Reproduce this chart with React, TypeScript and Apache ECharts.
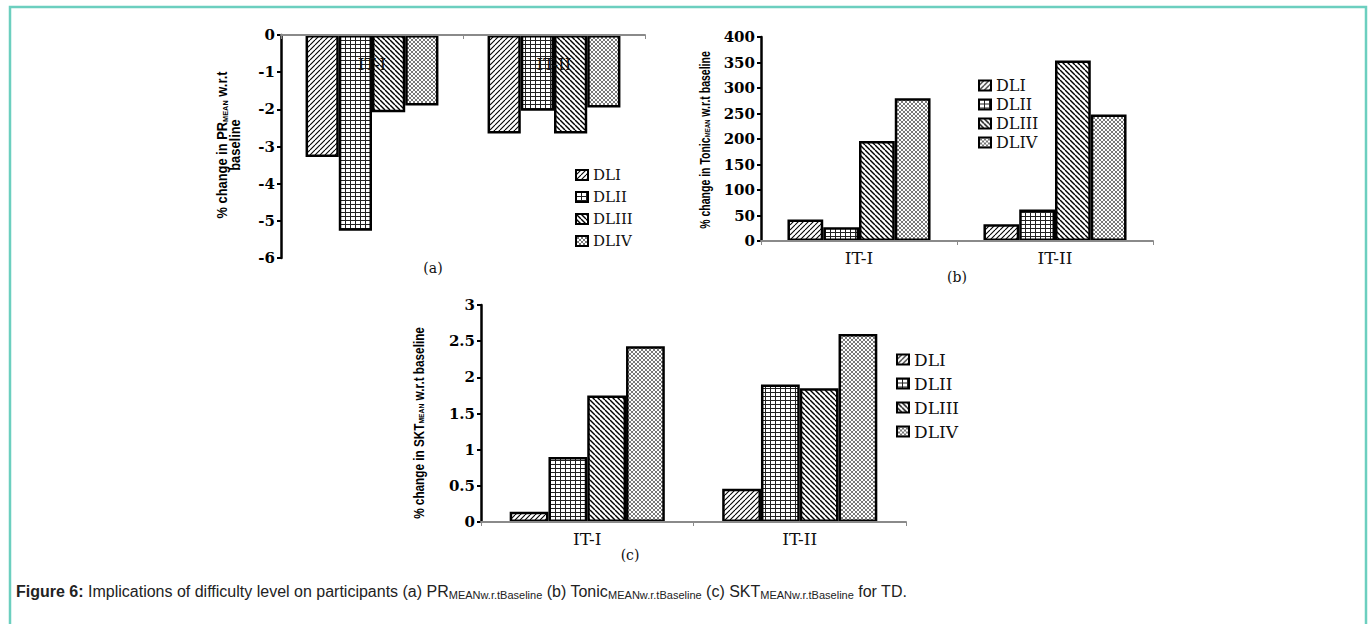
import React, { useEffect, useRef } from "react";
import * as echarts from "echarts";

// ---- data ----
const categories = ["IT-I", "IT-II"];
const levels = ["DLI", "DLII", "DLIII", "DLIV"];

// (a) % change in PR_MEAN w.r.t baseline
const prDLI = [-3.28, -2.65];
const prDLII = [-5.27, -2.04];
const prDLIII = [-2.08, -2.65];
const prDLIV = [-1.9, -1.95];

// (b) % change in Tonic_MEAN w.r.t baseline
const tonicDLI = [42, 33];
const tonicDLII = [27, 62];
const tonicDLIII = [196, 354];
const tonicDLIV = [280, 248];

// (c) % change in SKT_MEAN w.r.t baseline
const sktDLI = [0.14, 0.46];
const sktDLII = [0.9, 1.9];
const sktDLIII = [1.75, 1.85];
const sktDLIV = [2.43, 2.6];

// axis ticks
const prTicks = [-6, -5, -4, -3, -2, -1, 0];
const tonicTicks = [0, 50, 100, 150, 200, 250, 300, 350, 400];
const sktTicks = [0, 0.5, 1, 1.5, 2, 2.5, 3];

const SERIF = "'DejaVu Serif', 'Liberation Serif', serif";
const SANS = "'Liberation Sans', Arial, sans-serif";

function makePattern(w: number, h: number, draw: (ctx: CanvasRenderingContext2D, w: number, h: number) => void) {
  const c = document.createElement("canvas");
  c.width = w;
  c.height = h;
  const ctx = c.getContext("2d") as CanvasRenderingContext2D;
  ctx.fillStyle = "#ffffff";
  ctx.fillRect(0, 0, w, h);
  draw(ctx, w, h);
  return { image: c, repeat: "repeat", imageWidth: w, imageHeight: h } as any;
}

function buildPatterns() {
  const fwd = makePattern(5, 5, (ctx, w, h) => {
    ctx.strokeStyle = "#000";
    ctx.lineWidth = 1.1;
    for (const o of [-w, 0, w]) {
      ctx.beginPath();
      ctx.moveTo(o, h);
      ctx.lineTo(o + w, 0);
      ctx.stroke();
    }
  });
  const grid = makePattern(5, 4, (ctx, w, h) => {
    ctx.fillStyle = "#222";
    ctx.fillRect(0, 0, 1, h);
    ctx.fillRect(0, 0, w, 1);
  });
  const back = makePattern(5, 5, (ctx, w, h) => {
    ctx.strokeStyle = "#000";
    ctx.lineWidth = 1.4;
    for (const o of [-w, 0, w]) {
      ctx.beginPath();
      ctx.moveTo(o, 0);
      ctx.lineTo(o + w, h);
      ctx.stroke();
    }
  });
  const cross = makePattern(4, 4, (ctx, w, h) => {
    ctx.strokeStyle = "#6a6a6a";
    ctx.lineWidth = 0.9;
    for (const o of [-w, 0, w]) {
      ctx.beginPath();
      ctx.moveTo(o, 0);
      ctx.lineTo(o + w, h);
      ctx.stroke();
      ctx.beginPath();
      ctx.moveTo(o, h);
      ctx.lineTo(o + w, 0);
      ctx.stroke();
    }
  });
  return [fwd, grid, back, cross];
}

const nameRich = {
  t: { fontFamily: SANS, fontWeight: "bold", fontSize: 14, lineHeight: 13, fill: "#000" },
  s: { fontFamily: SANS, fontWeight: "bold", fontSize: 8, lineHeight: 6, verticalAlign: "bottom", fill: "#000" },
};

function axisName(text: string, x: number, y: number, scaleX: number) {
  return {
    type: "text",
    silent: true,
    x,
    y,
    rotation: Math.PI / 2,
    scaleX,
    style: { text, align: "center", verticalAlign: "middle", rich: nameRich },
  };
}

export default function App() {
  const ref = useRef<HTMLDivElement>(null);

  useEffect(() => {
    if (!ref.current) return;
    const chart = echarts.init(ref.current, undefined, { renderer: "svg" });
    const patterns = buildPatterns();

    const panels = [
      [prDLI, prDLII, prDLIII, prDLIV],
      [tonicDLI, tonicDLII, tonicDLIII, tonicDLIV],
      [sktDLI, sktDLII, sktDLIII, sktDLIV],
    ];

    const series: any[] = [];
    panels.forEach((vals4, gi) => {
      vals4.forEach((vals, si) => {
        series.push({
          type: "bar",
          name: levels[si],
          data: vals,
          xAxisIndex: gi,
          yAxisIndex: gi,
          barGap: "0%",
          barCategoryGap: "27%",
          silent: true,
          itemStyle: { color: patterns[si], borderColor: "#000", borderWidth: 2.5 },
          emphasis: { disabled: true },
        });
      });
    });

    const xAxisBase = (gi: number, top: boolean, margin: number) => ({
      gridIndex: gi,
      type: "category",
      data: categories,
      position: top ? "top" : "bottom",
      z: 10,
      axisLine: { show: true, onZero: false, lineStyle: { color: "#8a8a8a", width: 2 } },
      axisTick: { show: true, inside: top, length: 4, lineStyle: { color: "#8a8a8a", width: 1 } },
      axisLabel: { inside: top, margin, fontFamily: SERIF, fontSize: 17, color: "#111" },
      splitLine: { show: false },
    });

    const yAxisBase = (gi: number, ticks: number[]) => ({
      gridIndex: gi,
      type: "value",
      min: ticks[0],
      max: ticks[ticks.length - 1],
      interval: ticks[1] - ticks[0],
      axisLine: { show: true, onZero: false, lineStyle: { color: "#000", width: 2.5 } },
      axisTick: { show: true, length: 4, lineStyle: { color: "#000", width: 2 } },
      splitLine: { show: false },
      axisLabel: { margin: 6, fontFamily: SERIF, fontWeight: "bold", fontSize: 15, color: "#000" },
    });

    const legendBase = (left: number, top: number, fontSize: number, lineHeight: number, gap: number) => ({
      orient: "vertical",
      left,
      top,
      icon: "rect",
      itemWidth: 12,
      itemHeight: 10,
      itemGap: gap,
      selectedMode: false,
      data: levels,
      itemStyle: { borderColor: "#000", borderWidth: 2 },
      textStyle: { fontFamily: SERIF, fontSize, lineHeight, color: "#111" },
    });

    const option: any = {
      animation: false,
      backgroundColor: "#fff",
      grid: [
        { left: 281, top: 35, width: 364, height: 223 },
        { left: 761, top: 37, width: 392, height: 204 },
        { left: 481, top: 305, width: 425, height: 217 },
      ],
      xAxis: [xAxisBase(0, true, 20), xAxisBase(1, false, 8), xAxisBase(2, false, 8)],
      yAxis: [yAxisBase(0, prTicks), yAxisBase(1, tonicTicks), yAxisBase(2, sktTicks)],
      legend: [
        legendBase(570, 161, 15, 18, 4),
        legendBase(973, 72, 16, 17, 2),
        legendBase(891, 345, 17, 19, 5),
      ],
      series,
      graphic: [
        {
          type: "rect",
          silent: true,
          z: -10,
          shape: { x: 10, y: 7, width: 1356, height: 700 },
          style: { fill: "none", stroke: "#6ccfbf", lineWidth: 2.5 },
        },
        axisName("{t|% change in PR}{s|MEAN}{t| w.r.t}\n{t|baseline}", 229, 145, 0.92),
        axisName("{t|% change in Tonic}{s|MEAN}{t| w.r.t baseline}", 705, 140, 0.75),
        axisName("{t|% change in SKT}{s|MEAN}{t| w.r.t baseline}", 419, 423, 0.84),
        { type: "text", silent: true, x: 433, y: 268, style: { text: "(a)", fontFamily: SERIF, fontSize: 14, fill: "#111", align: "center", verticalAlign: "middle" } },
        { type: "text", silent: true, x: 957, y: 277, style: { text: "(b)", fontFamily: SERIF, fontSize: 14, fill: "#111", align: "center", verticalAlign: "middle" } },
        { type: "text", silent: true, x: 630, y: 555, style: { text: "(c)", fontFamily: SERIF, fontSize: 14, fill: "#111", align: "center", verticalAlign: "middle" } },
        {
          type: "text",
          silent: true,
          x: 16,
          y: 591,
          style: {
            text:
              "{b|Figure 6:}{n| Implications of difficulty level on participants (a) PR}{s|MEANw.r.tBaseline}{n| (b) Tonic}{s|MEANw.r.tBaseline}{n| (c) SKT}{s|MEANw.r.tBaseline}{n| for TD.}",
            align: "left",
            verticalAlign: "middle",
            rich: {
              b: { fontFamily: SANS, fontWeight: "bold", fontSize: 16, lineHeight: 18, fill: "#222" },
              n: { fontFamily: SANS, fontSize: 16, lineHeight: 18, fill: "#222" },
              s: { fontFamily: SANS, fontSize: 11, lineHeight: 6, verticalAlign: "bottom", fill: "#222" },
            },
          },
        },
      ],
    };

    chart.setOption(option);
    return () => chart.dispose();
  }, []);

  return <div ref={ref} style={{ position: "absolute", left: 0, top: 0, width: 1372, height: 624 }} />;
}
